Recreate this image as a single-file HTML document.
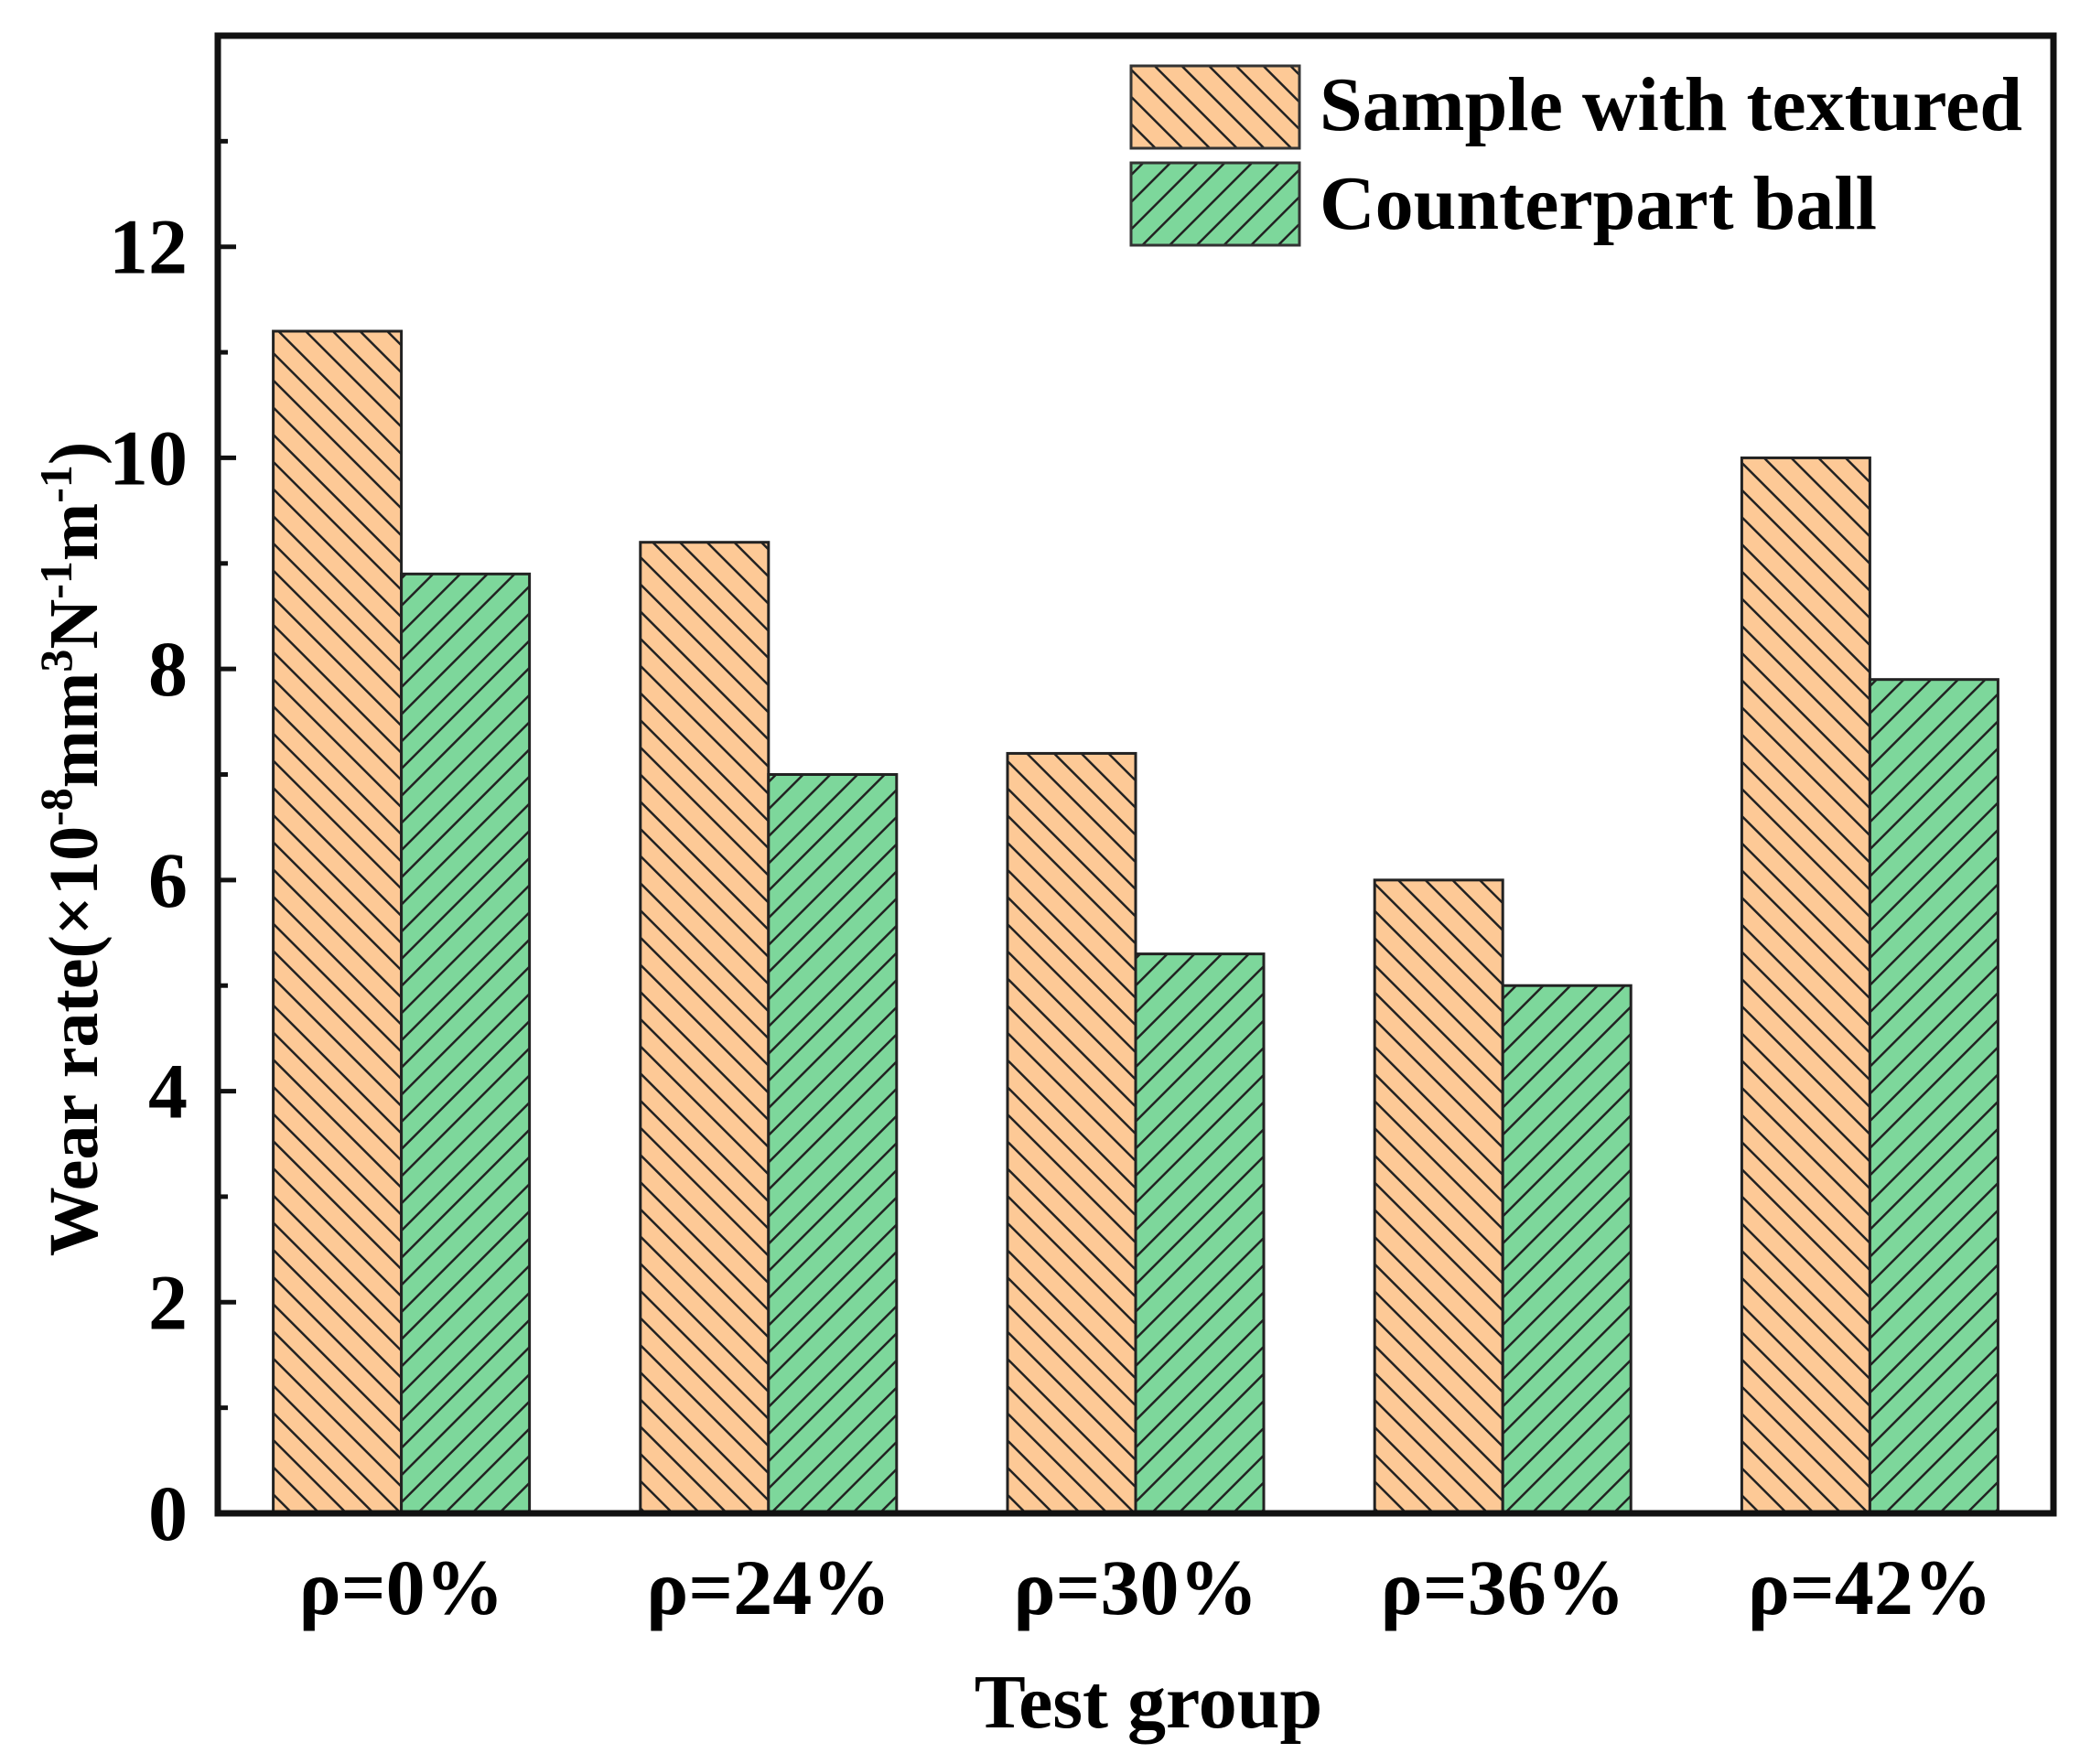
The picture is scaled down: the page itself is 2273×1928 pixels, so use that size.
<!DOCTYPE html>
<html><head><meta charset="utf-8"><style>
html,body{margin:0;padding:0;background:#fff;}
svg{display:block;font-family:"Liberation Serif",serif;font-weight:bold;}
</style></head><body>
<svg id="chart" width="2273" height="1928" viewBox="0 0 2273 1928" xmlns="http://www.w3.org/2000/svg">
<defs>
<pattern id="hatchA" patternUnits="userSpaceOnUse" width="21" height="21" patternTransform="rotate(-45)">
<rect width="21" height="21" fill="#FDC996"/><line x1="1" y1="0" x2="1" y2="21" stroke="#222" stroke-width="3"/>
</pattern>
<pattern id="hatchB" patternUnits="userSpaceOnUse" width="21" height="21" patternTransform="rotate(45)">
<rect width="21" height="21" fill="#7DD79B"/><line x1="1" y1="0" x2="1" y2="21" stroke="#222" stroke-width="3"/>
</pattern>
</defs>
<g id="bars"></g>
<g id="axes"></g>
</svg>
<script>
const categories = ["ρ=0%","ρ=24%","ρ=30%","ρ=36%","ρ=42%"];
const sampleValues = [11.2, 9.2, 7.2, 6.0, 10.0];
const ballValues = [8.9, 7.0, 5.3, 5.0, 7.9];
const yTicks = [0,2,4,6,8,10,12];
const yMinor = [1,3,5,7,9,11,13];

const NS="http://www.w3.org/2000/svg";
const L=238,R=2244,T=39,B=1654,YMAX=14;
const y=v=>B-(v/YMAX)*(B-T);
const band=(R-L)/categories.length;
const xc=i=>L+band*(i+0.5);
const BW=140;
function mk(tag,attrs,parent){const e=document.createElementNS(NS,tag);for(const k in attrs)e.setAttribute(k,attrs[k]);parent.appendChild(e);return e;}
const bars=document.getElementById('bars'),axes=document.getElementById('axes');

categories.forEach((c,i)=>{
  const a=mk('rect',{x:xc(i)-BW,y:y(sampleValues[i]),width:BW,height:B-y(sampleValues[i]),fill:'url(#hatchA)',stroke:'#222','stroke-width':3},bars);
  
  
  const b=mk('rect',{x:xc(i),y:y(ballValues[i]),width:BW,height:B-y(ballValues[i]),fill:'url(#hatchB)',stroke:'#222','stroke-width':3},bars);
  
  
  const t=mk('text',{x:xc(i),y:1764,'text-anchor':'middle','font-size':86},axes);
  t.textContent=c;
  
  
});

const frame=mk('rect',{x:L,y:T,width:R-L,height:B-T,fill:'none',stroke:'#111','stroke-width':7},axes);



yTicks.forEach(v=>{
  const l=mk('line',{x1:L,x2:L+20,y1:y(v),y2:y(v),stroke:'#111','stroke-width':5},axes);
  
  
  const t=mk('text',{x:205,y:y(v)+29,'text-anchor':'end','font-size':86},axes);
  t.textContent=v;
  
  
});
yMinor.forEach(v=>{
  const l=mk('line',{x1:L,x2:L+11,y1:y(v),y2:y(v),stroke:'#111','stroke-width':5},axes);
  
  
});

const xt=mk('text',{x:1255,y:1888,'text-anchor':'middle','font-size':84},axes);
xt.textContent='Test group';



const yt=mk('text',{x:0,y:0,'text-anchor':'middle','font-size':76,transform:'translate(106,928) rotate(-90)'},axes);
yt.innerHTML='Wear rate(×10<tspan dy="-28" font-size="50">-8</tspan><tspan dy="28">mm</tspan><tspan dy="-28" font-size="50">3</tspan><tspan dy="28">N</tspan><tspan dy="-28" font-size="50">-1</tspan><tspan dy="28">m</tspan><tspan dy="-28" font-size="50">-1</tspan><tspan dy="28">)</tspan>';



const leg=[['url(#hatchA)','Sample with textured',72,142,768],['url(#hatchB)','Counterpart ball',178,250,609]];
leg.forEach((d,i)=>{
  const r=mk('rect',{x:1236,y:d[2],width:184,height:90,fill:d[0],stroke:'#333','stroke-width':3},axes);
  
  
  const t=mk('text',{x:1442,y:d[3],'font-size':84,textLength:d[4],lengthAdjust:'spacingAndGlyphs'},axes);
  t.textContent=d[1];
  
  
});
</script>
</body></html>
